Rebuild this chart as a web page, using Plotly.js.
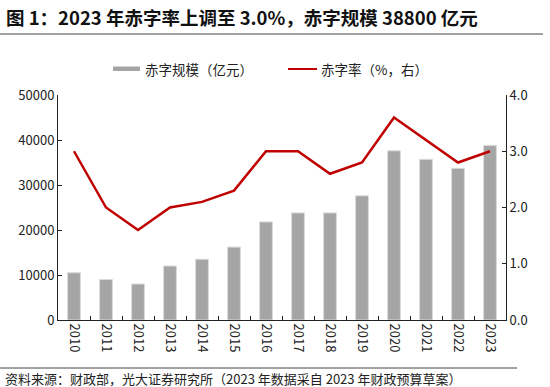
<!DOCTYPE html>
<html>
<head>
<meta charset="utf-8">
<script src="https://cdn.plot.ly/plotly-3.0.1.min.js"></script>
<style>html,body{margin:0;padding:0;background:#fff;}#chart{width:550px;height:387px;}</style>
</head>
<body>
<div id="chart"></div>
<script>
const years = ['2010','2011','2012','2013','2014','2015','2016','2017','2018','2019','2020','2021','2022','2023'];
const deficitScale = [10500, 9000, 8000, 12000, 13500, 16200, 21800, 23800, 23800, 27600, 37600, 35700, 33700, 38800];
const deficitRate = [3.0, 2.0, 1.6, 2.0, 2.1, 2.3, 3.0, 3.0, 2.6, 2.8, 3.6, 3.2, 2.8, 3.0];
const leftTicks = [0, 10000, 20000, 30000, 40000, 50000];
const rightTicks = [0, 1, 2, 3, 4];
const seriesNames = ['赤字规模（亿元）', '赤字率（%，右）'];

const F = '"Noto Sans CJK SC", "Noto Sans", sans-serif';
const plotW = 448, plotH = 225, mL = 58, mT = 95;
const px = v => (v - mL) / plotW;
const py = v => (mT + plotH - v) / plotH;

const barColor = '#A5A5A5', lineColor = '#C00000';

const traces = [
  {type:'bar', x:years, y:deficitScale, name:seriesNames[0], width:0.4,
   marker:{color:barColor, line:{color:'#DADADA', width:1}}},
  {type:'scatter', mode:'lines', x:years, y:deficitRate, name:seriesNames[1], yaxis:'y2',
   line:{color:lineColor, width:2.5}}
];

const tf = {family:F, size:13, color:'#222'};
const layout = {
  width:550, height:387,
  margin:{l:mL, r:44, t:mT, b:67},
  paper_bgcolor:'#fff', plot_bgcolor:'#fff',
  font:{family:F, size:12, color:'#222'},
  showlegend:false,
  xaxis:{type:'category', showline:true, linecolor:'#222', linewidth:1,
         ticks:'inside', tickson:'boundaries', ticklen:4, tickcolor:'#222',
         tickangle:90, tickfont:tf, showgrid:false, zeroline:false},
  yaxis:{range:[0,50000], tickvals:leftTicks, tickformat:'d', showline:true, linecolor:'#222', linewidth:1,
         ticks:'inside', ticklen:4, tickcolor:'#222', showgrid:false, zeroline:false, tickfont:tf},
  yaxis2:{range:[0,4], tickvals:rightTicks, tickformat:'.1f', overlaying:'y', side:'right',
          showline:true, linecolor:'#222', linewidth:1, ticks:'inside', ticklen:4, tickcolor:'#222',
          showgrid:false, zeroline:false, tickfont:tf},
  shapes:[
    {type:'line', xref:'paper', yref:'paper', x0:px(0), x1:px(543), y0:py(34), y1:py(34), line:{color:'#444', width:1.2}},
    {type:'line', xref:'paper', yref:'paper', x0:px(0), x1:px(517), y0:py(368), y1:py(368), line:{color:'#444', width:1}},
    {type:'rect', xref:'paper', yref:'paper', x0:px(113), x1:px(140), y0:py(66.5), y1:py(71), fillcolor:barColor, line:{width:0}},
    {type:'line', xref:'paper', yref:'paper', x0:px(288), x1:px(317), y0:py(69), y1:py(69), line:{color:lineColor, width:2}}
  ],
  annotations:[
    {text:'图 1：2023 年赤字率上调至 3.0%，赤字规模 38800 亿元', xref:'paper', yref:'paper',
     x:px(4), xanchor:'left', y:py(17), yanchor:'middle', showarrow:false,
     font:{family:F, size:18.5, color:'#111', weight:'bold'}},
    {text:seriesNames[0], xref:'paper', yref:'paper', x:px(143), xanchor:'left', y:py(68.5), yanchor:'middle',
     showarrow:false, font:{family:F, size:13.5, color:'#222'}},
    {text:seriesNames[1], xref:'paper', yref:'paper', x:px(319), xanchor:'left', y:py(68.5), yanchor:'middle',
     showarrow:false, font:{family:F, size:13.5, color:'#222'}},
    {text:'资料来源：财政部，光大证券研究所（2023 年数据采自 2023 年财政预算草案）', xref:'paper', yref:'paper',
     x:px(3), xanchor:'left', y:py(378), yanchor:'middle', showarrow:false,
     font:{family:F, size:13, color:'#222'}}
  ]
};

Plotly.newPlot('chart', traces, layout, {displayModeBar:false, staticPlot:true});
</script>
</body>
</html>
